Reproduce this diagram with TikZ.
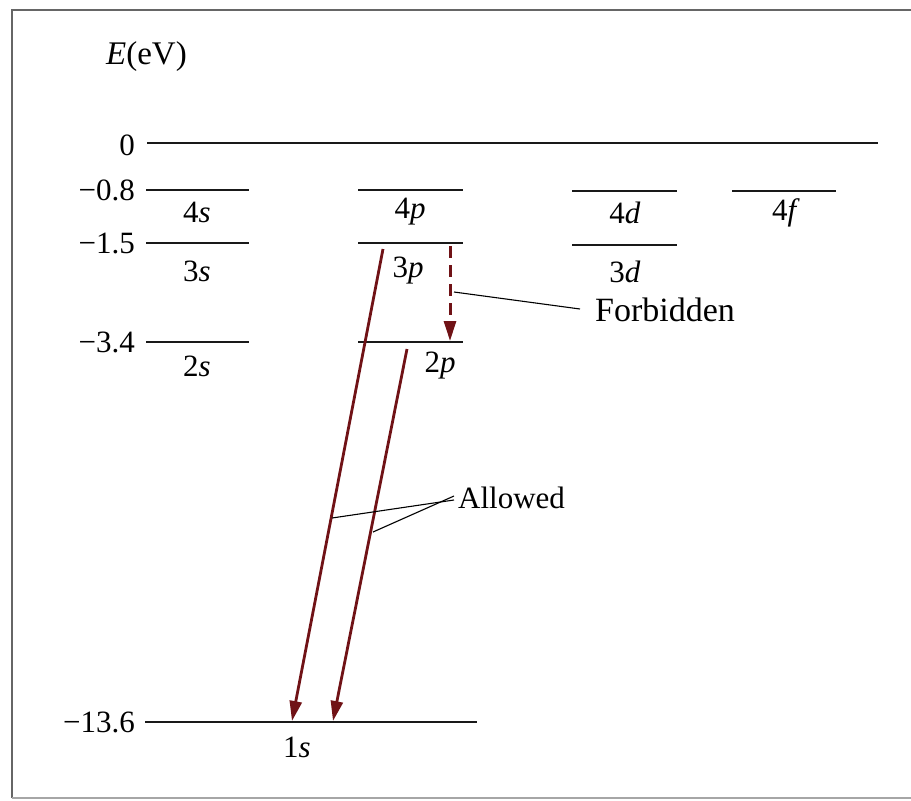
\documentclass[tikz,border=0pt]{standalone}
\usepackage{fontspec}
\setmainfont{Liberation Serif}
\usetikzlibrary{arrows.meta}
\definecolor{trred}{RGB}{112,18,22}
\begin{document}
\begin{tikzpicture}[x=1pt,y=-1pt,
  lvl/.style={line width=2.3pt, black!90},
  lab/.style={font=\fontsize{31}{31}\selectfont, inner sep=0pt},
  val/.style={lab, anchor=east},
  tr/.style={line width=2.8pt, draw=trred, -{Triangle[length=20pt,width=12pt]}},
  fb/.style={line width=3pt, draw=trred, dash pattern=on 12pt off 7pt, -{Triangle[length=20pt,width=12pt]}},
  leader/.style={line width=1.1pt, black}]
\useasboundingbox (0,0) rectangle (911,801);
% frame
\draw[line width=2pt, black!60] (12,798) -- (12,10) -- (911,10);
\draw[line width=1.5pt, black!35] (12,798) -- (911,798);
% axis label
\node[lab, font=\fontsize{33}{33}\selectfont, anchor=west] (E) at (106,57) {\textit{E}(eV)};
% level 0
\coordinate (z0a) at (147,143); \coordinate (z0b) at (878,143);
\draw[lvl] (z0a) -- (z0b);
\node[val] (v0) at (135,145) {0};
% -0.8
\node[val] (v08) at (135,190) {−0.8};
\coordinate (s4a) at (146,190); \coordinate (s4b) at (249,190);
\coordinate (p4a) at (358,190); \coordinate (p4b) at (463,190);
\coordinate (d4a) at (572,191); \coordinate (d4b) at (677,191);
\coordinate (f4a) at (732,191); \coordinate (f4b) at (836,191);
\draw[lvl] (s4a) -- (s4b); \draw[lvl] (p4a) -- (p4b);
\draw[lvl] (d4a) -- (d4b); \draw[lvl] (f4a) -- (f4b);
\node[lab] (l4s) at (197,212) {4\textit{s}};
\node[lab] (l4p) at (410,212) {4\textit{p}};
\node[lab] (l4d) at (625,213) {4\textit{d}};
\node[lab] (l4f) at (786,213) {4\textit{f}};
% -1.5
\node[val] (v15) at (135,243) {−1.5};
\coordinate (s3a) at (146,243); \coordinate (s3b) at (249,243);
\coordinate (p3a) at (358,243); \coordinate (p3b) at (463,243);
\coordinate (d3a) at (572,245); \coordinate (d3b) at (677,245);
\draw[lvl] (s3a) -- (s3b); \draw[lvl] (p3a) -- (p3b); \draw[lvl] (d3a) -- (d3b);
\node[lab] (l3s) at (197,271) {3\textit{s}};
\node[lab] (l3p) at (408,271) {3\textit{p}};
\node[lab] (l3d) at (625,272) {3\textit{d}};
% -3.4
\node[val] (v34) at (135,342) {−3.4};
\coordinate (s2a) at (146,342); \coordinate (s2b) at (249,342);
\coordinate (p2a) at (358,342); \coordinate (p2b) at (463,342);
\draw[lvl] (s2a) -- (s2b); \draw[lvl] (p2a) -- (p2b);
\node[lab] (l2s) at (197,366) {2\textit{s}};
\node[lab] (l2p) at (440,366) {2\textit{p}};
% -13.6
\node[val] (v136) at (135,722) {−13.6};
\coordinate (s1a) at (145,722); \coordinate (s1b) at (477,722);
\draw[lvl] (s1a) -- (s1b);
\node[lab] (l1s) at (297,747) {1\textit{s}};
% transitions
\coordinate (a1s) at (383,249); \coordinate (a1e) at (292,721);
\coordinate (a2s) at (407,349); \coordinate (a2e) at (333,721);
\coordinate (fs) at (450,246); \coordinate (fe) at (450,341);
\draw[tr] (a1s) -- (a1e);
\draw[tr] (a2s) -- (a2e);
\draw[fb] (fs) -- (fe);
% labels
\node[lab, font=\fontsize{34}{34}\selectfont, anchor=west] (forb) at (595,310) {Forbidden};
\coordinate (fl) at (454,292);
\coordinate (fr) at (580,309);
\draw[leader] (fl) -- (fr);
\node[lab, anchor=west] (allow) at (458,498) {Allowed};
\coordinate (al1) at (332,518); \coordinate (al2) at (373,532);
\draw[leader] ([xshift=-4pt,yshift=-2pt]allow.west) -- (al1);
\draw[leader] ([xshift=-4pt,yshift=2pt]allow.west) -- (al2);
\end{tikzpicture}
\end{document}
